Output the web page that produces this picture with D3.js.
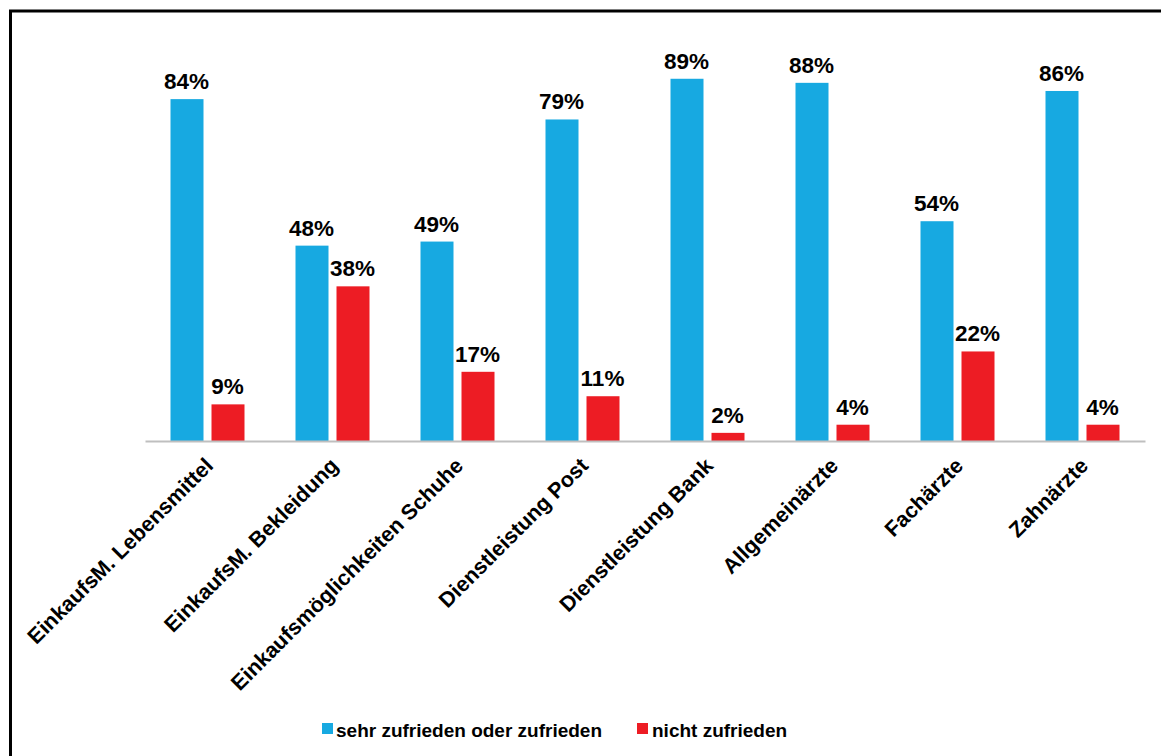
<!DOCTYPE html>
<html><head><meta charset="utf-8">
<script src="https://cdn.jsdelivr.net/npm/d3@7"></script>
<style>body{margin:0;background:#fff}svg{display:block;font-family:"Liberation Sans",Arial,sans-serif;font-weight:bold}</style>
</head><body>
<script>
const categories = ["EinkaufsM. Lebensmittel","EinkaufsM. Bekleidung","Einkaufsmöglichkeiten Schuhe","Dienstleistung Post","Dienstleistung Bank","Allgemeinärzte","Fachärzte","Zahnärzte"];
const seriesNames = ["sehr zufrieden oder zufrieden","nicht zufrieden"];
const zufrieden = [84,48,49,79,89,88,54,86];
const nichtZufrieden = [9,38,17,11,2,4,22,4];
const colors = ["#17A9E1","#ED1C24"];

const W=1161,H=756;
const svg=d3.select("body").append("svg").attr("width",W).attr("height",H);
svg.append("rect").attr("x",10.5).attr("y",11).attr("width",1300).attr("height",900)
  .attr("fill","none").attr("stroke","#000").attr("stroke-width",3);

const x=d3.scaleBand().domain(categories).range([145,1145]);
const y=d3.scaleLinear().domain([0,100]).range([441,34]);
const bw=33, gap=8;
const series=[zufrieden,nichtZufrieden];
const g=svg.append("g");
series.forEach((vals,si)=>{
  const off = x.bandwidth()/2 - (bw+gap/2) + si*(bw+gap);
  g.selectAll(null).data(vals).join("rect")
    .attr("x",(d,i)=>x(categories[i])+off).attr("width",bw)
    .attr("y",d=>y(d)).attr("height",d=>y(0)-y(d)).attr("fill",colors[si]);
  g.selectAll(null).data(vals).join("text")
    .attr("x",(d,i)=>x(categories[i])+off+bw/2-0.5).attr("y",d=>y(d)-10)
    .attr("text-anchor","middle").attr("font-size",22.5).attr("fill","#000")
    .text(d=>d+"%");
});
// axis
const ax=svg.append("g").attr("transform","translate(0,441)").call(d3.axisBottom(x).tickSize(0).tickFormat(""));
ax.select(".domain").attr("stroke","#BFBFBF").attr("stroke-width",2);
ax.selectAll(".tick").each(function(d){
  d3.select(this).append("text").attr("fill","#000").attr("font-size",21.5).attr("text-anchor","end")
    .attr("transform","translate(7,26) rotate(-45)").text(d);
});
// legend
const leg=[{x:322,tx:336},{x:637,tx:652}];
seriesNames.forEach((n,i)=>{
  svg.append("rect").attr("x",leg[i].x).attr("y",723).attr("width",11).attr("height",11).attr("fill",colors[i]);
  svg.append("text").attr("x",leg[i].tx).attr("y",737).attr("font-size",19).attr("fill","#000").text(n);
});
</script>
</body></html>
